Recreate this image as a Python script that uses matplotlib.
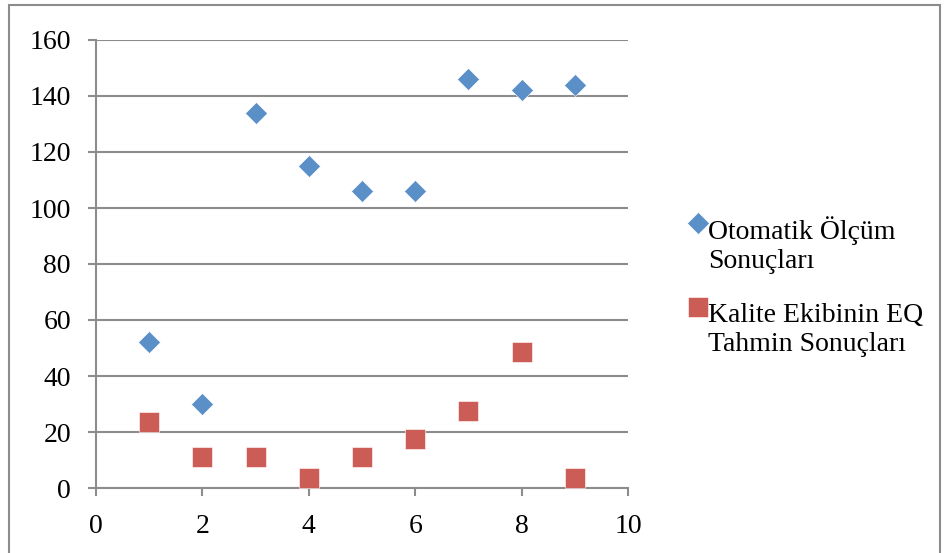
import matplotlib.pyplot as plt
from matplotlib.lines import Line2D
from matplotlib.patches import Rectangle

plt.rcParams['font.family'] = ['Liberation Serif', 'DejaVu Serif']

x = [1, 2, 3, 4, 5, 6, 7, 8, 9]
olcum = [52, 30, 134, 115, 106, 106, 146, 142, 144]
tahmin = [23.5, 11, 11, 3.5, 11, 17.5, 27.5, 48.5, 3.5]
labels = ['Otomatik Ölçüm\nSonuçları', 'Kalite Ekibinin EQ\nTahmin Sonuçları']

blue = '#5A8FC8'
red = '#CB5D56'
grey = '#8C8C8C'

fig = plt.figure(figsize=(9.45, 5.53), dpi=100)
ax = fig.add_axes([96/945, 1-488/553, (628-96)/945, (488-40)/553])

ax.plot(x, olcum, 'D', color=blue, ms=11.5, mec='white', mew=0.4, zorder=3, clip_on=False)
ax.plot(x, tahmin, 's', color=red, ms=14.5, mec='white', mew=0.4, zorder=3, clip_on=False)

ax.set_xlim(0, 10)
ax.set_ylim(0, 160)
ax.set_xticks(range(0, 11, 2))
ax.set_yticks(range(0, 161, 20))
ax.yaxis.grid(True, color=grey, lw=1.5)
ax.set_axisbelow(True)
for s in ['top', 'right']:
    ax.spines[s].set_visible(False)
for s in ['left', 'bottom']:
    ax.spines[s].set_color(grey)
    ax.spines[s].set_linewidth(1.5)
ax.tick_params(colors=grey, labelcolor='black', labelsize=20, length=6, width=1.5)
ax.tick_params(axis='y', pad=12)
ax.tick_params(axis='x', pad=13)

# legend drawn by hand so the marker sits on the first line
fig.add_artist(Line2D([698/945], [1-223/553], marker='D', color=blue, ms=11.5, mec='white', mew=0.4, transform=fig.transFigure))
fig.add_artist(Line2D([698/945], [1-307/553], marker='s', color=red, ms=14.5, mec='white', mew=0.4, transform=fig.transFigure))
fig.text(708/945, 1-245/553, labels[0], fontsize=20, va='center', ha='left', linespacing=1.2)
fig.text(708/945, 1-330/553, labels[1], fontsize=20, va='center', ha='left', linespacing=1.2)

fig.add_artist(Rectangle((9/945, -0.05), (940-9)/945, 1.05-5/553, transform=fig.transFigure,
                         fill=False, edgecolor=grey, lw=1.5))

fig.savefig('out.png', dpi=100)
